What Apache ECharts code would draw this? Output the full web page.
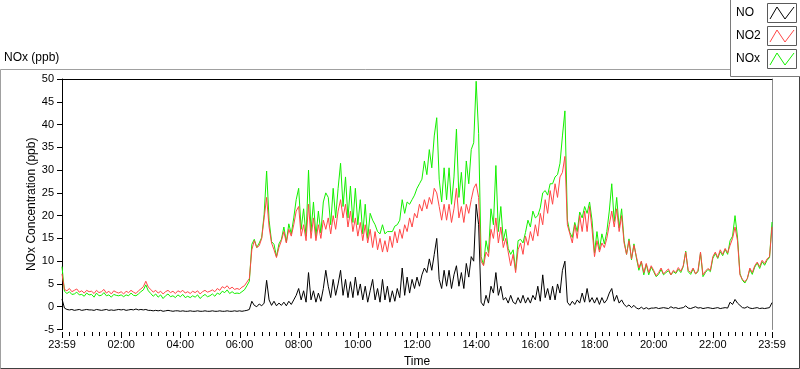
<!DOCTYPE html>
<html><head><meta charset="utf-8">
<script src="https://cdn.jsdelivr.net/npm/echarts@6/dist/echarts.min.js"></script>
<style>html,body{margin:0;padding:0;background:#fff}#c{width:800px;height:369px}</style>
</head><body><div id="c"></div>
<script>
// minutes from the first sample (23:59) — one sample every 5 minutes
const stepMinutes = 5;

const NO = [
 1.7,-0.3,-0.6,-0.7,-0.6,-0.8,-0.7,-0.6,-0.8,-0.7,-0.6,-0.7,
 -0.7,-0.8,-0.6,-0.7,-0.8,-0.7,-0.6,-0.8,-0.7,-0.8,-0.7,-0.6,
 -0.7,-0.6,-0.8,-0.7,-0.6,-0.7,-0.5,-0.7,-0.6,-0.7,-0.6,-0.8,
 -0.8,-0.9,-0.8,-0.9,-0.8,-1.0,-0.9,-0.8,-0.9,-1.0,-0.9,-0.9,
 -1.0,-0.9,-1.0,-1.0,-0.9,-1.0,-1.0,-0.9,-1.0,-1.0,-0.9,-1.0,
 -1.0,-0.9,-1.0,-1.0,-0.9,-1.0,-1.0,-0.9,-1.0,-1.0,-0.9,-1.0,
 -0.9,-1.0,-0.9,-0.8,-0.6,1.2,0.3,0.0,0.6,0.2,0.8,5.8,
 1.5,0.3,1.2,0.2,0.8,0.3,1.0,0.2,1.2,0.5,1.5,2.5,
 4.0,1.5,3.5,1.0,7.5,1.5,3.5,1.0,3.0,1.2,4.0,8.0,
 4.5,2.0,6.0,2.5,5.0,8.0,2.5,6.0,2.0,5.5,2.0,6.5,
 2.5,5.0,1.5,4.5,1.0,3.5,6.0,1.5,4.0,1.0,6.0,1.5,
 4.5,1.0,3.5,1.2,4.0,2.0,8.5,2.5,6.5,3.0,6.0,4.0,
 6.5,4.5,7.0,8.5,7.5,10.5,8.0,11.5,15.0,6.0,4.0,8.0,
 4.5,8.0,4.0,7.0,9.0,4.5,7.5,4.0,9.5,6.5,11.0,10.0,
 22.5,18.0,1.0,0.2,2.5,0.8,4.5,3.0,7.5,2.5,4.5,1.5,
 2.0,0.8,2.5,1.0,0.6,2.0,0.8,2.5,0.8,2.0,0.8,2.5,
 1.5,4.5,1.2,7.0,2.0,4.0,1.5,4.5,1.5,5.0,3.0,8.0,
 10.0,1.0,0.3,1.2,0.5,1.5,0.8,3.0,1.0,4.0,1.0,2.0,
 0.8,2.0,0.5,2.0,0.8,1.5,3.0,4.0,1.2,2.5,0.8,1.5,
 0.5,0.0,0.4,-0.2,0.3,-0.3,-0.5,-0.1,-0.5,-0.2,-0.5,-0.3,
 -0.3,-0.2,-0.4,-0.3,-0.2,-0.3,-0.4,0.0,-0.3,-0.2,-0.4,-0.3,
 -0.2,0.2,-0.3,-0.4,-0.2,0.0,-0.3,-0.2,-0.4,-0.3,-0.2,-0.3,
 -0.4,-0.3,-0.2,-0.4,-0.3,-0.2,-0.3,1.0,0.5,1.6,0.8,0.3,
 -0.2,-0.3,0.0,-0.3,-0.4,-0.3,-0.2,-0.4,-0.3,-0.4,-0.3,-0.2,
 0.9
];

const NO2 = [
 7.2,3.8,3.5,4.0,3.3,3.6,3.9,3.2,3.5,3.0,3.6,3.3,
 3.4,2.9,3.6,3.1,3.3,3.8,3.0,3.4,2.8,3.5,3.2,3.0,
 3.3,2.8,3.4,3.1,3.6,3.2,2.9,3.5,3.9,4.4,5.6,4.3,
 3.8,3.2,3.6,3.0,3.4,2.8,3.3,3.6,3.1,3.4,2.9,3.5,
 3.2,3.6,3.0,3.3,2.9,3.4,3.1,3.5,2.8,3.3,3.6,3.2,
 3.4,3.7,3.3,4.0,3.6,4.4,4.1,4.6,3.9,4.3,3.8,4.0,
 3.8,4.3,4.6,5.4,6.2,12.5,14.5,13.0,13.4,15.0,19.5,24.0,
 17.5,14.0,12.5,10.8,13.0,14.5,16.5,14.0,17.0,15.5,18.0,21.0,
 22.0,15.5,18.0,14.5,22.5,15.0,19.5,14.5,18.0,15.0,19.0,17.0,
 19.5,16.0,20.0,17.0,21.0,23.5,19.5,22.5,17.5,21.0,16.5,19.5,
 15.5,18.5,14.5,18.0,14.0,17.0,13.0,16.5,12.5,15.0,12.0,14.5,
 12.0,15.5,13.0,16.5,14.0,17.0,15.0,18.0,16.5,19.5,17.5,20.5,
 19.5,22.5,21.0,23.5,21.5,24.0,22.5,26.0,25.0,22.0,19.0,22.5,
 19.0,22.5,18.5,21.5,26.0,19.5,22.0,18.5,22.5,20.5,23.5,26.0,
 27.0,24.0,10.0,9.0,12.0,11.0,17.0,15.0,19.5,14.0,17.5,13.0,
 15.0,12.0,9.0,11.5,7.5,12.5,14.0,11.5,15.5,13.5,16.5,14.5,
 18.0,15.5,20.5,18.0,23.5,20.5,25.5,22.5,27.0,24.0,28.5,29.5,
 33.0,18.0,16.0,14.0,18.0,15.0,20.0,16.5,21.0,16.5,22.0,17.0,
 11.0,14.5,12.0,14.0,13.0,15.0,18.0,21.0,17.5,21.5,16.5,20.0,
 14.0,11.5,14.5,10.5,13.5,11.0,8.5,10.0,7.5,9.5,7.5,9.0,
 8.0,6.8,7.5,8.5,7.2,7.8,8.3,7.0,8.0,7.5,8.6,7.8,
 9.0,12.0,8.0,7.5,8.5,7.2,8.0,12.0,7.0,7.8,8.4,8.0,
 11.0,12.0,10.8,12.5,11.5,12.8,11.8,13.5,15.0,17.5,14.5,7.0,
 6.0,5.5,6.2,8.5,7.5,9.0,9.8,8.8,10.2,9.5,10.5,11.0,
 17.5
];

const NOx = [
 8.8,3.4,2.9,3.3,2.7,2.8,3.2,2.6,2.7,2.3,3.0,2.6,
 2.7,2.1,3.0,2.4,2.5,3.1,2.4,2.6,2.1,2.7,2.5,2.4,
 2.6,2.2,2.6,2.4,3.0,2.5,2.4,2.8,3.3,3.7,4.8,3.5,
 2.9,2.3,2.8,2.1,2.6,1.8,2.4,2.8,2.2,2.4,2.0,2.6,
 2.2,2.7,2.0,2.3,2.0,2.4,2.1,2.6,1.8,2.3,2.7,2.2,
 2.4,2.8,2.3,3.0,2.7,3.4,3.1,3.7,2.9,3.3,2.9,3.0,
 2.9,3.3,3.7,4.6,5.6,13.7,14.8,13.0,14.0,15.2,20.3,29.8,
 19.0,14.3,13.7,11.0,13.8,14.8,17.5,14.2,18.2,16.0,19.5,23.5,
 26.0,17.0,21.5,15.5,30.0,16.5,23.0,15.5,21.0,16.2,23.0,25.0,
 24.0,18.0,26.0,19.5,26.0,31.5,22.0,28.5,19.5,26.5,18.5,26.0,
 18.0,23.5,16.0,22.5,15.0,20.5,19.0,18.0,16.5,16.0,18.0,16.0,
 16.5,16.5,16.5,17.7,18.0,19.0,23.5,20.5,23.0,22.5,23.5,24.5,
 26.0,27.0,28.0,32.0,29.0,34.5,30.5,37.5,41.5,28.0,23.0,30.5,
 23.5,30.5,22.5,28.5,39.0,24.0,29.5,22.5,32.0,27.0,34.5,36.0,
 49.5,38.0,11.0,9.2,14.5,11.8,21.5,18.0,31.0,16.5,22.0,14.5,
 17.0,12.8,11.5,12.5,8.1,14.5,14.8,14.0,16.3,19.0,17.5,21.0,
 19.5,20.0,21.7,25.0,25.5,24.5,27.0,27.0,28.5,29.0,31.5,37.5,
 43.0,19.0,16.3,15.2,18.5,16.5,20.8,19.5,22.0,20.5,23.0,19.0,
 11.8,16.5,12.5,16.0,13.8,16.5,21.0,27.0,18.7,24.0,17.3,21.5,
 14.5,11.5,14.9,10.3,13.8,10.7,8.0,9.9,7.0,9.3,7.0,8.7,
 7.7,6.6,7.1,8.2,7.0,7.5,7.9,7.0,7.7,7.3,8.2,7.5,
 8.8,12.2,7.7,7.1,8.3,7.2,7.7,11.8,6.6,7.5,8.2,7.7,
 10.6,11.7,10.6,12.1,11.2,12.6,11.5,14.5,15.5,20.0,15.3,7.3,
 5.8,5.2,6.2,8.2,7.1,8.7,9.6,8.4,9.9,9.1,10.2,10.8,
 18.6
];

// x axis: minutes after the 23:59 start; labels every 2 h, minor ticks every 15 min
const xSpan = 1440;
const xMajorStep = 120;
const xMinorStep = 15;
const xTickLabels = ['23:59','02:00','04:00','06:00','08:00','10:00','12:00','14:00','16:00','18:00','20:00','22:00','23:59'];
const yTickValues = [-5,0,5,10,15,20,25,30,35,40,45,50];
const yMin = -5, yMax = 50, yStep = 5;

const seriesNames = ['NO','NO2','NOx'];
const seriesColors = ['#000000','#ff4646','#14f000'];

const toPairs = arr => arr.map((v, i) => [i * stepMinutes, v]);
const labelFor = v => { const k = Math.round(v / xMajorStep); return xTickLabels[k] || ''; };

const FONT = '"Liberation Sans", Arial, sans-serif';
const chart = echarts.init(document.getElementById('c'), null, {renderer:'canvas'});
const off = {show:false};

chart.setOption({
  animation:false,
  backgroundColor:'#ffffff',
  grid:{left:62, right:28, top:79, bottom:39.5, containLabel:false, outerBoundsMode:'none'},
  xAxis:[
    {type:'value', min:0, max:xSpan, interval:xMajorStep, position:'bottom', offset:2,
     axisLine:{show:false, onZero:false}, axisTick:off,
     axisLabel:{show:true, interval:0, formatter:labelFor, color:'#000', fontFamily:FONT, fontSize:11, margin:8, hideOverlap:false},
     splitLine:off,
     name:'Time', nameLocation:'middle', nameGap:22,
     nameTextStyle:{color:'#000', fontFamily:FONT, fontSize:12}},
    {type:'value', min:0, max:xSpan, position:'top',
     axisLine:{show:true, onZero:false, lineStyle:{color:'#000', width:1}}, axisTick:off, axisLabel:off, splitLine:off}
  ],
  yAxis:[
    {type:'value', min:yMin, max:yMax, interval:yStep, position:'left',
     axisLine:{show:true, onZero:false, lineStyle:{color:'#000', width:1}},
     axisTick:{show:true, length:5, lineStyle:{color:'#000'}},
     axisLabel:off, splitLine:off,
     name:'NOx Concentration (ppb)', nameLocation:'middle', nameGap:24,
     nameTextStyle:{color:'#000', fontFamily:FONT, fontSize:12}
    },
    {type:'value', min:yMin, max:yMax, interval:yStep, position:'right',
     axisLine:{show:true, onZero:false, lineStyle:{color:'#8a8a8a', width:1}},
     axisTick:off, axisLabel:off, splitLine:off
    }
  ],
  series:[
    {name:seriesNames[2], type:'line', data:toPairs(NOx), showSymbol:false, symbol:'none',
     lineStyle:{color:seriesColors[2], width:1}, itemStyle:{color:seriesColors[2]}, z:2},
    {name:seriesNames[1], type:'line', data:toPairs(NO2), showSymbol:false, symbol:'none',
     lineStyle:{color:seriesColors[1], width:1}, itemStyle:{color:seriesColors[1]}, z:3},
    {name:seriesNames[0], type:'line', data:toPairs(NO), showSymbol:false, symbol:'none',
     lineStyle:{color:seriesColors[0], width:1}, itemStyle:{color:seriesColors[0]}, z:4}
  ]
});

// axis decorations placed with the chart's own scales (drawn on a top layer)
const px = v => chart.convertToPixel({xAxisIndex:0}, v);
const py = v => chart.convertToPixel({yAxisIndex:0}, v);
const axisLeft = Math.round(px(0));
const plotBottom = Math.round(py(yMin));
const deco = [];
for (let t = 0; t <= xSpan; t += xMinorStep) {
  const x = Math.round(px(t)) + 0.5;
  const len = (t % xMajorStep === 0) ? 6 : 4;
  deco.push({type:'rect', zlevel:1, z:100, silent:true,
    shape:{x:x - 0.5, y:plotBottom + 2, width:1, height:len},
    style:{fill:'#000'}});
}
yTickValues.forEach(v => {
  deco.push({type:'text', zlevel:1, z:100, silent:true, x:axisLeft - 8, y:Math.round(py(v)),
    style:{text:String(v), fill:'#000', font:'11px '+FONT, textAlign:'right', textVerticalAlign:'middle'}});
});

chart.setOption({
  graphic:[
    {type:'polyline', shape:{points:[[0.5,368.5],[0.5,69.5],[730,69.5]]}, style:{stroke:'#a0a0a0', lineWidth:1}, silent:true},
    {type:'polyline', shape:{points:[[0.5,368.5],[799.5,368.5],[799.5,76]]}, style:{stroke:'#404040', lineWidth:1}, silent:true},
    {type:'text', left:4, top:52, style:{text:'NOx (ppb)', fill:'#000', font:'12px '+FONT}},
    {type:'rect', shape:{x:730.5, y:-1, width:70, height:77.5}, style:{stroke:'#7a7a7a', fill:'#fff', lineWidth:1}},
    ...seriesNames.map((n, k) => ({type:'group', children:[
      {type:'text', x:736, y:13 + k*23, style:{text:n, fill:'#000', font:'12px '+FONT, textVerticalAlign:'middle'}},
      {type:'rect', shape:{x:767.5, y:3.5 + k*23, width:29, height:19}, style:{stroke:'#5a5a5a', fill:'#fff', lineWidth:1}},
      {type:'polyline', shape:{points:[[770,19+k*23],[777,7+k*23],[785,19+k*23],[794,7+k*23]]}, style:{stroke:seriesColors[k], lineWidth:1}}
    ]})),
    ...deco
  ]
});
</script>
</body></html>
